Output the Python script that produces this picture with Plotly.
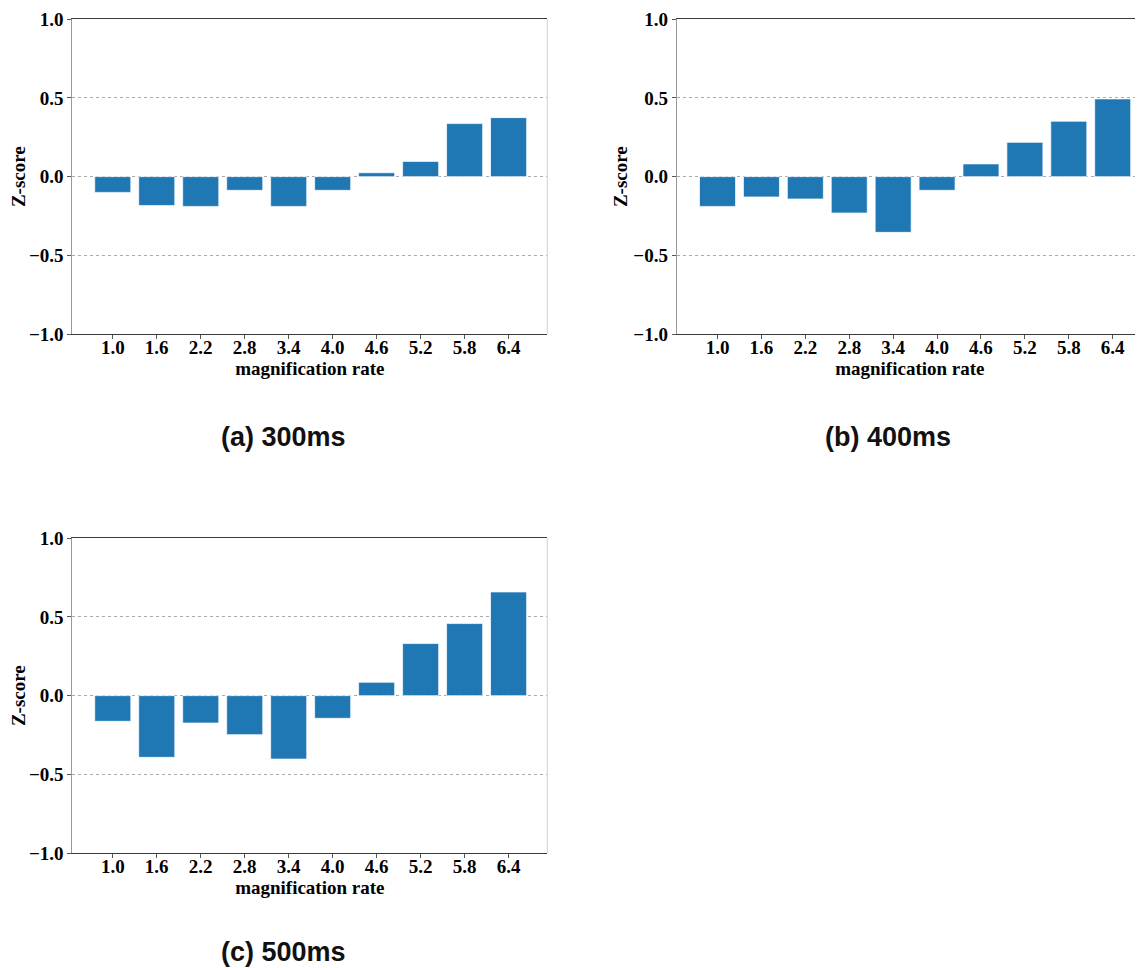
import plotly.graph_objects as go

categories = ["1.0", "1.6", "2.2", "2.8", "3.4", "4.0", "4.6", "5.2", "5.8", "6.4"]
z_300ms = [-0.100, -0.184, -0.189, -0.087, -0.189, -0.087, 0.025, 0.097, 0.337, 0.375]
z_400ms = [-0.189, -0.129, -0.142, -0.231, -0.354, -0.087, 0.081, 0.218, 0.352, 0.494]
z_500ms = [-0.163, -0.392, -0.174, -0.248, -0.403, -0.144, 0.085, 0.331, 0.458, 0.659]
captions = ["(a) 300ms", "(b) 400ms", "(c) 500ms"]
ytick_vals = [-1.0, -0.5, 0.0, 0.5, 1.0]
ytick_text = ["\u22121.0", "\u22120.5", "0.0", "0.5", "1.0"]

OFF = 8  # page body margin
W, H = 1143 - OFF, 968 - OFF
BAR = "#1f77b4"
serif = dict(family="Liberation Serif, Times New Roman, serif", size=19, color="#000000", weight="bold")

# panel geometry in screen pixels: (left, right, top, bottom, xrange, right spine)
panels = [
    (72.3, 547.3, 19.3, 334.0, [-0.92, 9.88], True),
    (676.7, 1143.0, 19.3, 334.0, [-0.93, 9.69], False),
    (72.3, 547.3, 538.3, 853.0, [-0.92, 9.88], True),
]
series = [z_300ms, z_400ms, z_500ms]


def px(v):
    return (v - OFF) / W


def py(v):
    return 1 - (v - OFF) / H


fig = go.Figure()
for i, ((l, r, t, b, xr, right_spine), vals) in enumerate(zip(panels, series)):
    n = "" if i == 0 else str(i + 1)
    fig.add_trace(go.Bar(
        x=list(range(len(categories))), y=vals, width=0.82,
        marker=dict(color=BAR, line=dict(color="rgba(255,255,255,0.7)", width=1)),
        xaxis="x" + n, yaxis="y" + n, showlegend=False,
    ))
    fig.update_layout(**{
        "xaxis" + n: dict(
            domain=[px(l), min(1.0, px(r))], range=xr, anchor="y" + n, automargin=False,
            tickmode="array", tickvals=list(range(len(categories))), ticktext=categories,
            ticks="outside", ticklen=4, tickcolor="#555555", tickwidth=1,
            ticklabelstandoff=-8,
            showline=True, linecolor="#3a3a3a", linewidth=1.3, mirror=True,
            showgrid=False, zeroline=False, tickfont=serif,
            title=dict(text="magnification rate", font=serif, standoff=0),
        ),
        "yaxis" + n: dict(
            domain=[py(b), py(t)], range=[-1.0, 1.0], anchor="x" + n, automargin=False,
            tickmode="array", tickvals=ytick_vals, ticktext=ytick_text,
            ticks="outside", ticklen=4, tickcolor="#555555", tickwidth=1,
            showline=True, linecolor="#999999", linewidth=1,
            showgrid=True, gridcolor="#aaaaaa", griddash="dot", gridwidth=1,
            zeroline=False, tickfont=serif,
            title=dict(text="Z-score", font=serif, standoff=0),
        ),
    })
    if right_spine:
        fig.add_shape(type="line", xref="paper", yref="paper",
                      x0=px(r), x1=px(r), y0=py(b), y1=py(t),
                      line=dict(color="#d0d0d0", width=1))

cap_pos = [(283, 437), (888, 437), (283, 952)]
for text, (cx, cy) in zip(captions, cap_pos):
    fig.add_annotation(text=text, xref="paper", yref="paper", x=px(cx), y=py(cy),
                       xanchor="center", yanchor="middle", showarrow=False,
                       font=dict(family="Liberation Sans, Arial, sans-serif", size=27,
                                 color="#111111", weight="bold"))

fig.update_layout(width=W, height=H, margin=dict(l=0, r=0, t=0, b=0, autoexpand=False),
                  plot_bgcolor="white", paper_bgcolor="white", bargap=0.2)
fig.write_html("out.html")
